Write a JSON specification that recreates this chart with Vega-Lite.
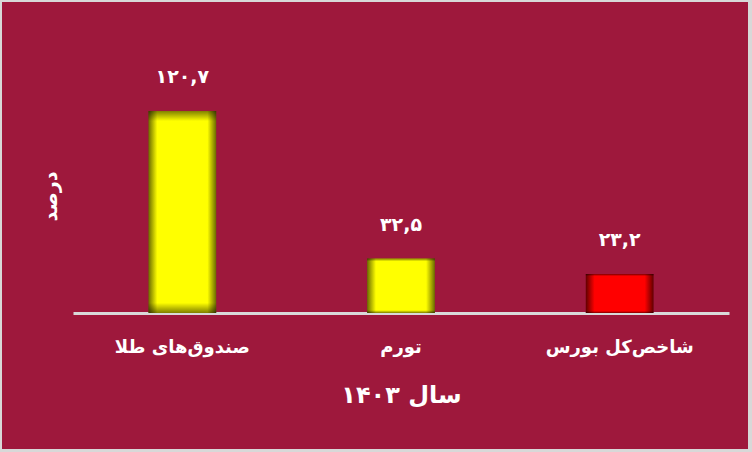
{
  "$schema": "https://vega.github.io/schema/vega-lite/v6.json",
  "width": 746,
  "height": 447,
  "autosize": {"type": "none"},
  "padding": {"left": 2, "top": 2, "right": 4, "bottom": 3},
  "background": "#d8d8d8",
  "config": {
    "view": {"fill": "#9e183c", "stroke": null},
    "font": "DejaVu Sans"
  },
  "data": {
    "values": [
      {"cat": "صندوق‌های طلا", "value": 120.7, "label": "۱۲۰,۷"},
      {"cat": "تورم", "value": 32.5, "label": "۳۲,۵"},
      {"cat": "شاخص‌کل بورس", "value": 23.2, "label": "۲۳,۲"}
    ]
  },
  "encoding": {
    "x": {
      "field": "cat",
      "type": "nominal",
      "sort": null,
      "scale": {"range": [71, 727], "paddingInner": 0.69, "paddingOuter": 0.345},
      "axis": {
        "orient": "bottom",
        "offset": -136,
        "domainColor": "#d9d9d9",
        "domainWidth": 3,
        "ticks": false,
        "grid": false,
        "labelAngle": 0,
        "labelColor": "#ffffff",
        "labelFont": "DejaVu Sans",
        "labelFontSize": 18,
        "labelFontWeight": "bold",
        "labelPadding": 25,
        "title": "سال ۱۴۰۳",
        "titleColor": "#ffffff",
        "titleFont": "DejaVu Sans",
        "titleFontSize": 24,
        "titleFontWeight": "bold",
        "titlePadding": 27
      }
    },
    "y": {
      "field": "value",
      "type": "quantitative",
      "scale": {"domain": [-81.3, 185.8], "nice": false, "zero": false},
      "axis": {
        "orient": "left",
        "offset": -71,
        "domain": false,
        "ticks": false,
        "labels": false,
        "grid": false,
        "title": "درصد",
        "titleColor": "#ffffff",
        "titleFont": "DejaVu Sans",
        "titleFontSize": 19,
        "titleFontWeight": "bold",
        "titlePadding": 13,
        "titleY": 194
      }
    }
  },
  "layer": [
    {
      "transform": [{"filter": "datum.cat !== 'شاخص‌کل بورس'"}],
      "mark": {
        "type": "bar",
        "color": {
          "gradient": "linear", "x1": 0, "y1": 0, "x2": 1, "y2": 0,
          "stops": [
            {"offset": 0, "color": "#6a6a00"},
            {"offset": 0.13, "color": "#ffff00"},
            {"offset": 0.87, "color": "#ffff00"},
            {"offset": 1, "color": "#6a6a00"}
          ]
        }
      }
    },
    {
      "transform": [{"filter": "datum.cat === 'شاخص‌کل بورس'"}],
      "mark": {
        "type": "bar",
        "color": {
          "gradient": "linear", "x1": 0, "y1": 0, "x2": 1, "y2": 0,
          "stops": [
            {"offset": 0, "color": "#600000"},
            {"offset": 0.13, "color": "#ff0000"},
            {"offset": 0.87, "color": "#ff0000"},
            {"offset": 1, "color": "#600000"}
          ]
        }
      }
    },
    {
      "mark": {
        "type": "bar",
        "color": {
          "gradient": "linear", "x1": 0, "y1": 0, "x2": 0, "y2": 1,
          "stops": [
            {"offset": 0, "color": "rgba(0,0,0,0.5)"},
            {"offset": 0.05, "color": "rgba(0,0,0,0)"},
            {"offset": 0.95, "color": "rgba(0,0,0,0)"},
            {"offset": 1, "color": "rgba(0,0,0,0.5)"}
          ]
        }
      }
    },
    {
      "mark": {
        "type": "text",
        "dy": -34,
        "baseline": "middle",
        "align": "center",
        "color": "#ffffff",
        "font": "DejaVu Sans",
        "fontSize": 19,
        "fontWeight": "bold"
      },
      "encoding": {"text": {"field": "label"}}
    }
  ]
}
